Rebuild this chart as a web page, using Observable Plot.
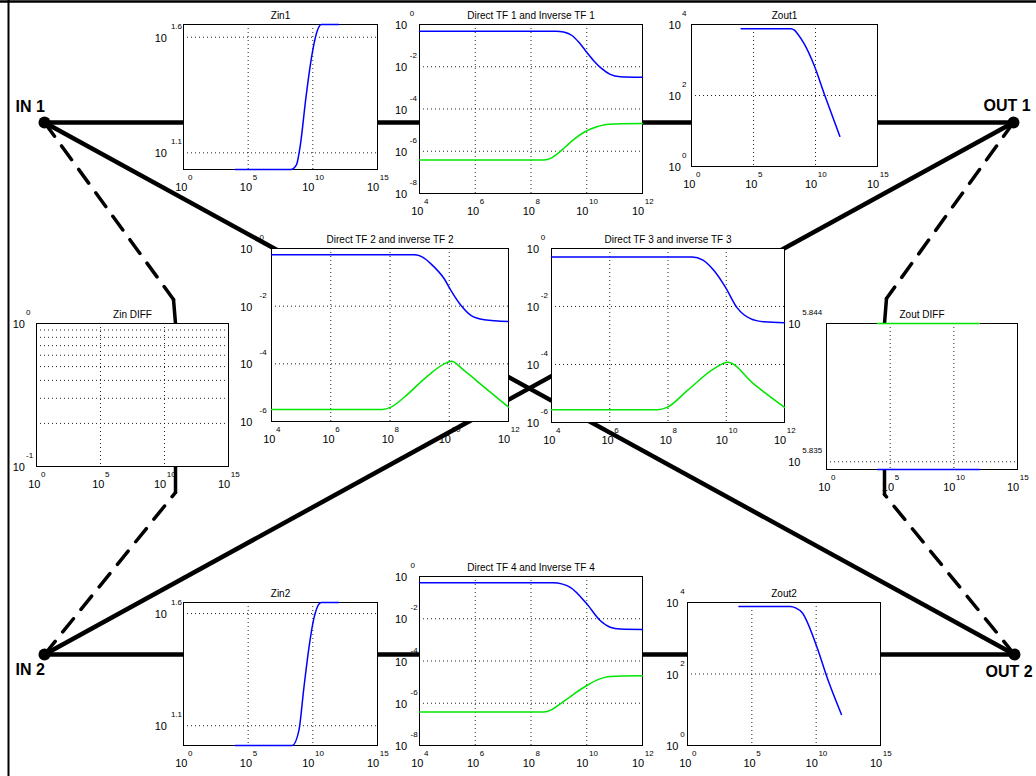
<!DOCTYPE html>
<html><head><meta charset="utf-8">
<script src="https://cdn.jsdelivr.net/npm/d3@7"></script>
<script src="https://cdn.jsdelivr.net/npm/@observablehq/plot@0.6"></script>
<style>
body{margin:0;background:#fff;}
#root{position:relative;width:1036px;height:776px;overflow:hidden;background:#fff;font-family:"Liberation Sans",Arial,sans-serif;}
#root svg{position:absolute;}
</style></head><body><div id="root"></div>
<script>
// ---------- tick labels (exponents of 10) ----------
const xExpZ = ["0","5","10","15"];
const xExpTF = ["4","6","8","10","12"];
const yExpZin = ["1.1","1.6"];
const yExpTF8 = ["0","-2","-4","-6","-8"];
const yExpTF6 = ["0","-2","-4","-6"];
const yExpZout = ["0","2","4"];
const yExpZinDiff = ["0","-1"];
const yMinorZinDiff = [0.2,0.3,0.4,0.5,0.6,0.7,0.8,0.9];
const yExpZoutDiff = ["5.835","5.844"];

// ---------- series: [log10 f, log10 value] ----------
const zin1 = [[4,1.028],[8.3,1.028],[8.72,1.047],[9.05,1.14],[9.44,1.327],[9.78,1.47],[10.04,1.557],[10.35,1.629],[10.66,1.655],[12,1.655]];
const zin2 = [[4,1.012],[8.41,1.012],[8.92,1.078],[9.31,1.27],[9.7,1.448],[10.04,1.567],[10.35,1.629],[10.66,1.649],[12,1.649]];
const tf1Direct = [[4,-0.32],[8.9,-0.32],[9.17,-0.36],[9.47,-0.52],[9.71,-0.83],[9.95,-1.23],[10.24,-1.7],[10.54,-2.09],[10.84,-2.36],[11.2,-2.47],[12,-2.5]];
const tf1Inverse = [[4,-6.42],[8.4,-6.42],[8.69,-6.35],[8.93,-6.14],[9.23,-5.8],[9.53,-5.45],[9.83,-5.16],[10.12,-4.96],[10.42,-4.82],[10.78,-4.72],[12,-4.69]];
const tf2Direct = [[4,-0.22],[8.82,-0.22],[9.1,-0.3],[9.38,-0.53],[9.83,-1.05],[10.06,-1.46],[10.4,-1.98],[10.73,-2.32],[11.18,-2.47],[12,-2.53]];
const tf2Inverse = [[4,-5.58],[7.75,-5.58],[8.03,-5.5],[8.48,-5.16],[9.16,-4.52],[9.83,-4.0],[10.07,-3.91],[10.5,-4.23],[11.18,-4.81],[12,-5.5]];
const tf3Direct = [[4,-0.29],[8.83,-0.29],[9.2,-0.4],[9.57,-0.75],[9.97,-1.33],[10.37,-2.04],[10.83,-2.42],[11.3,-2.53],[12,-2.56]];
const tf3Inverse = [[4,-5.56],[7.63,-5.56],[7.97,-5.48],[8.66,-4.9],[9.57,-4.15],[10.05,-3.92],[10.94,-4.67],[12,-5.48]];
const tf4Direct = [[4,-0.3],[8.81,-0.3],[9.1,-0.35],[9.41,-0.51],[10.0,-1.29],[10.48,-2.08],[10.84,-2.4],[11.2,-2.49],[12,-2.51]];
const tf4Inverse = [[4,-6.42],[8.45,-6.42],[8.75,-6.3],[9.05,-6.03],[9.5,-5.6],[10.0,-5.16],[10.4,-4.88],[10.84,-4.73],[12,-4.7]];
const zout1 = [[4,3.88],[8.0,3.88],[8.3,3.84],[8.55,3.74],[9.08,3.46],[9.89,2.85],[10.7,2.05],[11.96,0.85]];
const zout2 = [[4,3.89],[7.99,3.89],[8.4,3.85],[8.9,3.72],[10.07,2.74],[10.85,1.9],[11.96,0.87]];
const zoutDiff1 = [[4,5.844],[12,5.844]];
const zoutDiff2 = [[4,5.8345],[12,5.8345]];

// ---------- diagram ----------
const nodes = [
  {name:"IN 1", x:44, y:122},
  {name:"IN 2", x:44, y:654},
  {name:"OUT 1", x:1013, y:122},
  {name:"OUT 2", x:1014, y:654}
];
const busLinks = [["IN 1","OUT 1"],["IN 2","OUT 2"],["IN 1","OUT 2"],["IN 2","OUT 1"]];
const diffTaps = [
  {node:"IN 1", bend:[173,299], end:[175,323]},
  {node:"IN 2", bend:[175,492], end:[175,466]},
  {node:"OUT 1", bend:[886,298], end:[884,323]},
  {node:"OUT 2", bend:[884,494], end:[884,469]}
];
const labelOffsets = {"IN 1":[-29,-16],"IN 2":[-29,15],"OUT 1":[-30,-17],"OUT 2":[-29,17]};

const BLUE = "#0000ff", GREEN = "#00e600";
const FONT = "'Liberation Sans', Arial, sans-serif";
const root = document.getElementById("root");
const N = name => nodes.find(n => n.name === name);

const dashPts = diffTaps.flatMap((t,i) => [{k:i, x:N(t.node).x, y:N(t.node).y},{k:i, x:t.bend[0], y:t.bend[1]}]);
const stubPts = diffTaps.flatMap((t,i) => [{k:i, x:t.bend[0], y:t.bend[1]},{k:i, x:t.end[0], y:t.end[1]}]);
const bg = Plot.plot({
  width:1036, height:776, margin:0,
  x:{domain:[0,1036], range:[0,1036], axis:null},
  y:{domain:[0,776], range:[0,776], axis:null},
  style:{background:"transparent", fontFamily:FONT},
  marks:[
    Plot.ruleX([8], {stroke:"black", strokeWidth:2}),
    Plot.ruleY([1], {stroke:"black", strokeWidth:2.5}),
    Plot.link(busLinks, {x1:d=>N(d[0]).x, y1:d=>N(d[0]).y, x2:d=>N(d[1]).x, y2:d=>N(d[1]).y, stroke:"black", strokeWidth:4.5}),
    Plot.line(dashPts, {x:"x", y:"y", z:"k", stroke:"black", strokeWidth:3.5, strokeDasharray:"17,12"}),
    Plot.line(stubPts, {x:"x", y:"y", z:"k", stroke:"black", strokeWidth:3.5}),
    Plot.dot(nodes, {x:"x", y:"y", r:6, fill:"black"}),
    Plot.text(nodes, {x:d=>d.x+labelOffsets[d.name][0], y:d=>d.y+labelOffsets[d.name][1], text:"name", textAnchor:"start", fontSize:16, fontWeight:"bold", fill:"black"})
  ]
});
bg.style.left = "0px"; bg.style.top = "0px";
root.appendChild(bg);

const panels = [
  {title:"Zin1", box:[183,24,377,169], xDom:[0,15], xExp:xExpZ, yDom:[1.028,1.655], yExp:yExpZin, yb:16.6, ye:12.6, series:[[zin1,BLUE]]},
  {title:"Direct TF 1 and Inverse TF 1", box:[419,24,642,193], xDom:[4,12], xExp:xExpTF, yDom:[-8,0], yExp:yExpTF8, yb:12.3, ye:9.7, series:[[tf1Direct,BLUE],[tf1Inverse,GREEN]]},
  {title:"Zout1", box:[691,24,877,166], xDom:[0,15], xExp:xExpZ, yDom:[0,4], yExp:yExpZout, yb:10.7, ye:9.6, series:[[zout1,BLUE]]},
  {title:"Direct TF 2 and inverse TF 2", box:[271,248,508,421], xDom:[4,12], xExp:xExpTF, yDom:[-6,0], yExp:yExpTF6, yb:19, ye:12, series:[[tf2Direct,BLUE],[tf2Inverse,GREEN]]},
  {title:"Direct TF 3 and inverse TF 3", box:[551,248,784,422], xDom:[4,12], xExp:xExpTF, yDom:[-6,0], yExp:yExpTF6, yb:12.4, ye:10.7, series:[[tf3Direct,BLUE],[tf3Inverse,GREEN]]},
  {title:"Zin DIFF", box:[36,323,228,466], xDom:[0,15], xExp:xExpZ, yDom:[-1,0], yExp:yExpZinDiff, yMinor:yMinorZinDiff, yb:11.5, ye:10.5, series:[]},
  {title:"Zout DIFF", box:[826,323,1017,469], xDom:[0,15], xExp:xExpZ, yDom:[5.8345,5.844], yExp:yExpZoutDiff, yb:26, ye:24.3, series:[[zoutDiff2,BLUE],[zoutDiff1,GREEN]]},
  {title:"Zin2", box:[183,602,377,745], xDom:[0,15], xExp:xExpZ, yDom:[1.012,1.649], yExp:yExpZin, yb:16.6, ye:12.6, series:[[zin2,BLUE]]},
  {title:"Direct TF 4 and Inverse TF 4", box:[419,576,642,745], xDom:[4,12], xExp:xExpTF, yDom:[-8,0], yExp:yExpTF8, yb:12.3, ye:9, series:[[tf4Direct,BLUE],[tf4Inverse,GREEN]]},
  {title:"Zout2", box:[687,602,880,745], xDom:[0,15], xExp:xExpZ, yDom:[0,4], yExp:yExpZout, yb:9, ye:7.2, series:[[zout2,BLUE]]}
];

const expW = s => [...s].reduce((w,c) => w + (c === "." ? 2.2 : c === "-" ? 2.7 : 4.45), 0);
const BASEW = 12.2;
const grid = {stroke:"black", strokeWidth:1, strokeDasharray:"1,3", strokeOpacity:0.85};

function panel(p) {
  const [l,t,r,b] = p.box;
  const mL = 50, mT = 26, mR = 24, mB = 30;
  const xTickVals = p.xExp.map(e => 10 ** (+e));
  const yTickVals = p.yExp.map(e => 10 ** (+e));
  const marks = [
    Plot.frame({fill:"white", stroke:"none"}),
    Plot.ruleX(xTickVals, grid),
    Plot.ruleY(yTickVals, grid)
  ];
  if (p.yMinor) marks.push(Plot.ruleY(p.yMinor, grid));
  marks.push(Plot.frame({stroke:"black", strokeWidth:1}));
  marks.push(Plot.text([p.title], {frameAnchor:"top", dy:-13, fontSize:10, fill:"black"}));
  for (const e of p.xExp) {
    const be = (BASEW - expW(e)) / 2;
    marks.push(Plot.text([10 ** (+e)], {x:d => d, frameAnchor:"bottom", text:() => "10", textAnchor:"end", dx:be, dy:21, fontSize:11, fill:"black"}));
    marks.push(Plot.text([10 ** (+e)], {x:d => d, frameAnchor:"bottom", text:() => e, textAnchor:"start", dx:be + 0.6, dy:10, fontSize:8, fill:"black"}));
  }
  marks.push(Plot.text(p.yExp, {y:d => 10 ** (+d), frameAnchor:"left", text:() => "10", textAnchor:"end", dx:-p.yb, dy:1, fontSize:11, fill:"black"}));
  marks.push(Plot.text(p.yExp, {y:d => 10 ** (+d), frameAnchor:"left", text:d => d, textAnchor:"start", dx:-p.ye, dy:-11, fontSize:8, fill:"black"}));
  // data lines last so they sit on top of the axes box
  for (const [data, color] of p.series) {
    marks.push(Plot.line(data, {x:d => 10 ** d[0], y:d => 10 ** d[1], stroke:color, strokeWidth:1.5, curve:"monotone-x"}));
  }

  const svg = Plot.plot({
    width:(r - l) + mL + mR, height:(b - t) + mT + mB,
    marginLeft:mL, marginTop:mT, marginRight:mR, marginBottom:mB,
    x:{type:"log", domain:[10 ** p.xDom[0], 10 ** p.xDom[1]], axis:null},
    y:{type:"log", domain:[10 ** p.yDom[0], 10 ** p.yDom[1]], axis:null},
    style:{background:"transparent", overflow:"visible", fontFamily:FONT, maxWidth:"none"},
    marks
  });
  svg.style.left = (l - mL) + "px";
  svg.style.top = (t - mT) + "px";
  root.appendChild(svg);
}
panels.forEach(panel);
</script>
</body></html>
